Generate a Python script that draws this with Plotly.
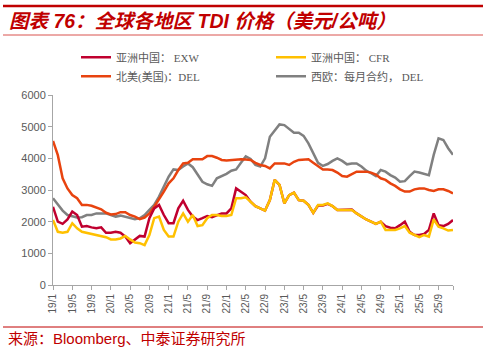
import plotly.graph_objects as go

# Monthly, 2019-01 .. 2025-12
months = [f"{y % 100}/{m}" for y in range(2019, 2026) for m in range(1, 13)]
x_idx = list(range(len(months)))

asia_exw = [2470, 2000, 1930, 2070, 2320, 2210, 1840, 1860, 1820, 1790, 1820, 1650,
            1650, 1680, 1650, 1530, 1320, 1440, 1550, 1530, 2110, 2420, 2530, 2210,
            1950, 1950, 2420, 2660, 2370, 2160, 2050, 2110, 2180, 2140, 2210, 2260,
            2260, 2420, 3050, 2950, 2840, 2630, 2490, 2420, 2350, 2680, 3320, 3160,
            2580, 2840, 2920, 2680, 2660, 2530, 2280, 2510, 2510, 2560, 2490, 2370,
            2370, 2370, 2380, 2260, 2160, 2070, 2000, 1930, 2000, 1860, 1810, 1790,
            1890, 2000, 1680, 1580, 1580, 1610, 1740, 2260, 1890, 1860, 1930, 2050]
asia_cfr = [2050, 1680, 1650, 1680, 1950, 1790, 1680, 1650, 1610, 1580, 1550, 1510,
            1440, 1440, 1470, 1550, 1440, 1340, 1320, 1260, 1580, 2110, 2160, 1740,
            1530, 1530, 2000, 2260, 2000, 2210, 1860, 1890, 2110, 2210, 2210, 2180,
            2180, 2210, 2740, 2740, 2770, 2630, 2490, 2420, 2350, 2680, 3320, 3160,
            2580, 2840, 2920, 2680, 2660, 2530, 2280, 2530, 2530, 2580, 2490, 2370,
            2370, 2370, 2370, 2260, 2160, 2070, 2000, 1930, 2000, 1740, 1740, 1740,
            1790, 1860, 1650, 1580, 1510, 1580, 1530, 2070, 1840, 1790, 1720, 1740]
na_del = [4550, 4100, 3370, 3050, 2840, 2740, 2530, 2530, 2500, 2450, 2390, 2280,
          2230, 2240, 2300, 2300, 2210, 2160, 2080, 2130, 2260, 2470, 2700, 2950,
          3210, 3370, 3630, 3840, 3860, 3970, 3970, 3970, 4070, 4070, 4020, 3950,
          3930, 3950, 3970, 3970, 3960, 3950, 3860, 3790, 3760, 3680, 3840, 3840,
          3840, 3790, 3890, 3950, 3970, 3970, 3860, 3740, 3650, 3650, 3630, 3550,
          3440, 3420, 3510, 3580, 3580, 3580, 3550, 3490, 3370, 3320, 3210, 3130,
          3020, 2950, 2950, 3020, 3050, 3050, 3000, 2970, 3020, 3020, 2970, 2890]
we_del = [2740, 2560, 2350, 2210, 2160, 2130, 2140, 2210, 2210, 2260, 2260, 2260,
          2210, 2160, 2190, 2160, 2110, 2080, 2110, 2210, 2370, 2530, 2790, 3110,
          3420, 3650, 3630, 3740, 3840, 3720, 3470, 3260, 3180, 3130, 3370, 3440,
          3510, 3610, 3650, 3860, 4060, 3980, 3790, 3740, 4000, 4680, 4890, 5070,
          5050, 4920, 4810, 4810, 4710, 4470, 4180, 3860, 3760, 3820, 3920, 4000,
          3920, 3810, 3840, 3840, 3740, 3610, 3530, 3440, 3630, 3580, 3470, 3390,
          3260, 3280, 3440, 3580, 3550, 3510, 3470, 4110, 4630, 4580, 4320, 4110]

tick_vals = list(range(0, 84, 4)) + [83]
tick_text = [months[i] for i in range(0, 84, 4)] + [""]
y_ticks = [0, 1000, 2000, 3000, 4000, 5000, 6000]

series = [
    ("西欧：每月合约， DEL", we_del, "#808080", "legend2", 2),
    ("北美(美国)：DEL", na_del, "#E8430F", "legend", 2),
    ("亚洲中国： EXW", asia_exw, "#C0002F", "legend", 1),
    ("亚洲中国： CFR", asia_cfr, "#FFC000", "legend2", 1),
]

fig = go.Figure()
for name, vals, color, lg, rank in series:
    fig.add_trace(go.Scatter(x=x_idx, y=vals, mode="lines", name=name, legend=lg,
                             line=dict(color=color, width=2.5), legendrank=rank))

leg_font = dict(family="Liberation Serif, Noto Sans CJK SC", size=11, color="#595959")
leg_common = dict(orientation="v", yanchor="top", y=1.275, xanchor="left",
                  font=leg_font, bgcolor="rgba(0,0,0,0)", tracegroupgap=0,
                  itemwidth=30, traceorder="normal")

fig.update_layout(
    width=488, height=352,
    margin=dict(l=53, r=35, t=95, b=67),
    paper_bgcolor="white", plot_bgcolor="white",
    font=dict(family="Liberation Sans, Arial, Noto Sans CJK SC", color="#595959", size=11),
    showlegend=True,
    legend=dict(x=(76 - 53) / 400, **leg_common),
    legend2=dict(x=(271 - 53) / 400, **leg_common),
    xaxis=dict(range=[0, 83], tickmode="array", tickvals=tick_vals, ticktext=tick_text,
               tickangle=-90, ticks="outside", ticklen=4, tickcolor="#A6A6A6",
               showline=True, linecolor="#A6A6A6", linewidth=1, showgrid=False, zeroline=False,
               tickfont=dict(size=10, color="#595959")),
    yaxis=dict(range=[0, 6000], tickmode="array", tickvals=y_ticks,
               ticks="outside", ticklen=4, tickcolor="#A6A6A6",
               showline=True, linecolor="#A6A6A6", linewidth=1, showgrid=False, zeroline=False,
               tickfont=dict(size=11, color="#595959")),
)

# title & source decorations
fig.add_shape(type="line", xref="paper", yref="paper", x0=-0.125, x1=1.075,
              y0=1 + (95 - 6) / 190, y1=1 + (95 - 6) / 190, line=dict(color="#C00000", width=2.5))
fig.add_shape(type="line", xref="paper", yref="paper", x0=-0.125, x1=1.075,
              y0=1 + (95 - 35) / 190, y1=1 + (95 - 35) / 190, line=dict(color="#D9534F", width=1))
fig.add_shape(type="line", xref="paper", yref="paper", x0=-0.125, x1=1.075,
              y0=-(327 - 285) / 190, y1=-(327 - 285) / 190, line=dict(color="#C00000", width=1))

fig.add_annotation(text="<b><i>图表 76：全球各地区 TDI 价格（美元/公吨）</i></b>",
                   xref="paper", yref="paper", x=-(53 - 7) / 400, xanchor="left",
                   y=1 + (95 - 21) / 190, yanchor="middle", showarrow=False,
                   font=dict(family="Liberation Sans, Noto Sans CJK SC", size=19.5, color="#C00000"))
fig.add_annotation(text="来源：Bloomberg、中泰证券研究所",
                   xref="paper", yref="paper", x=-(53 - 6) / 400, xanchor="left",
                   y=-(338 - 285) / 190, yanchor="middle", showarrow=False,
                   font=dict(family="Liberation Sans, Noto Sans CJK SC", size=15, color="#C00000"))

fig.write_html("out.html")
